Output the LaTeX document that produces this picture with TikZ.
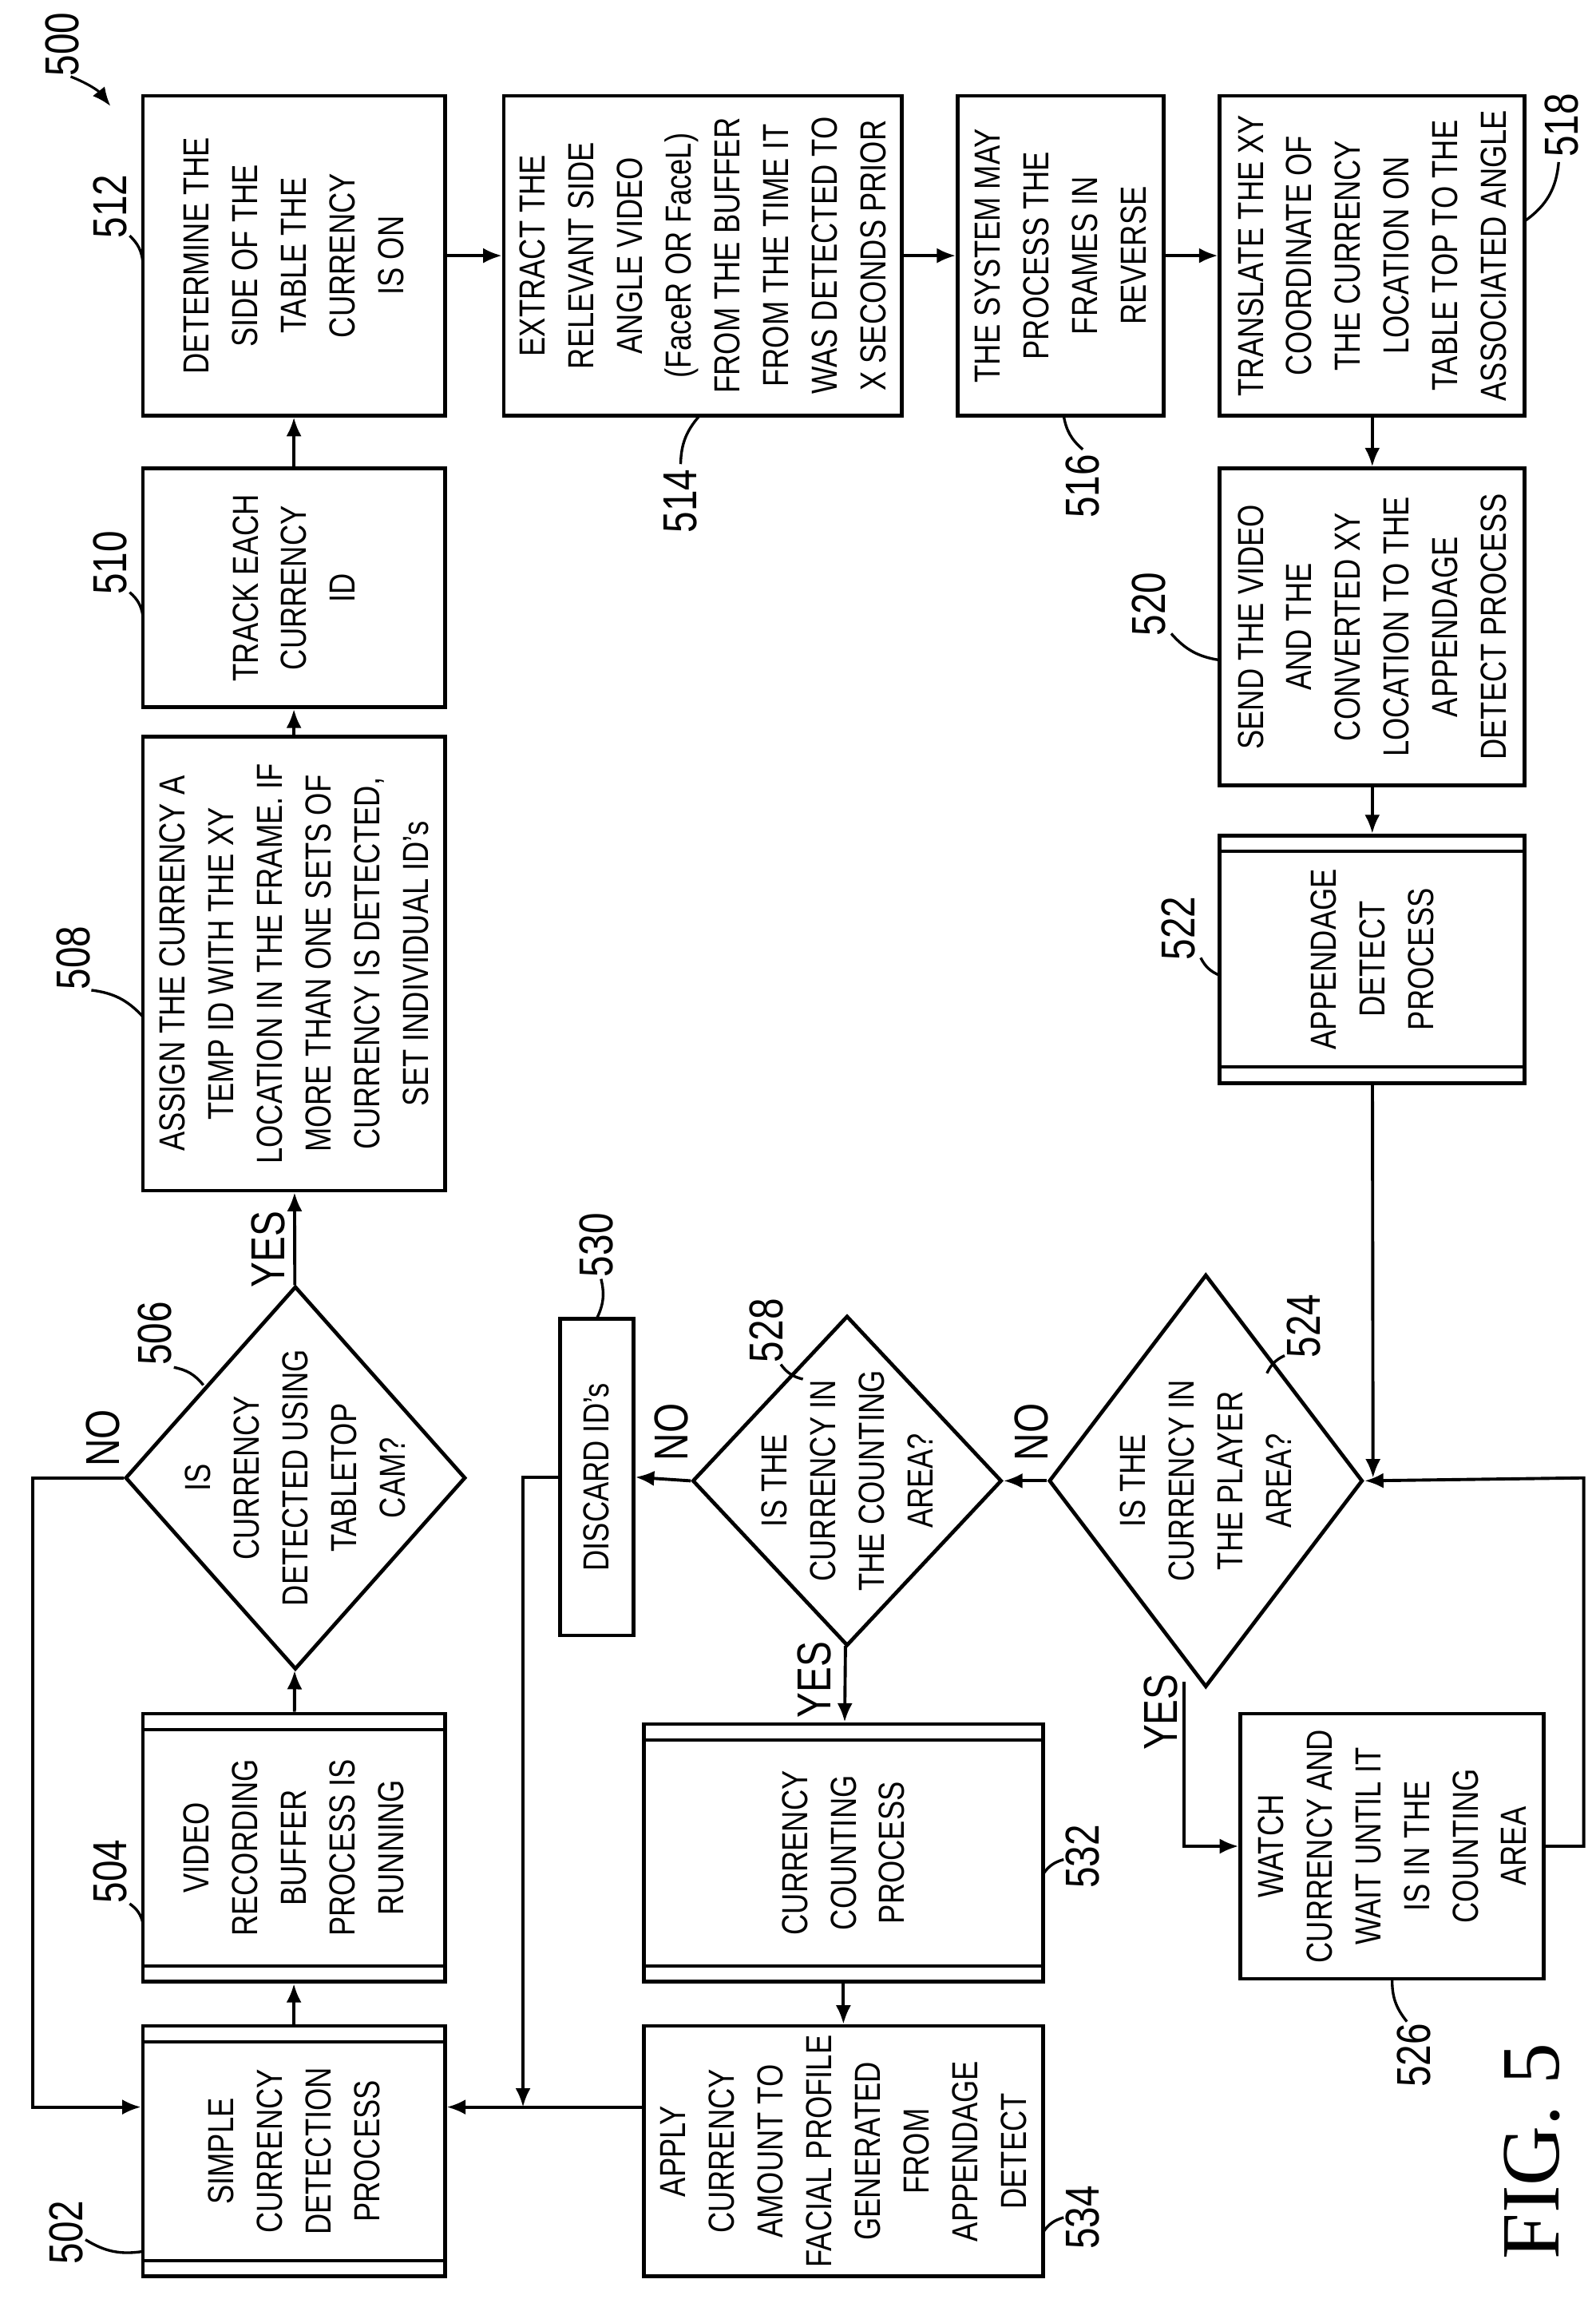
\documentclass[tikz,border=0pt]{standalone}
\usepackage{fontspec}
\setmainfont{Liberation Sans}[FakeStretch=0.8]
\newfontfamily\figfont{Liberation Serif}
\usetikzlibrary{arrows.meta,shapes.geometric}
\newcommand\bx[5]{\node[box,minimum width={(#4-#2)*0.25mm},minimum height={(#5-#3)*0.25mm}] (#1) at ({(#2+#4)/2},{(#3+#5)/2}) {};}
\newcommand\dm[5]{\node[dia,minimum width={(#4-#2)*0.25mm},minimum height={(#5-#3)*0.25mm}] (#1) at ({(#2+#4)/2},{(#3+#5)/2}) {};}
\newcommand\tx[2]{\node[txt] at (#1) {#2};}
\newcommand\bars[1]{\draw[thick2] ([yshift=-3mm]#1.north west) -- ([yshift=-3mm]#1.north east);
  \draw[thick2] ([yshift=3mm]#1.south west) -- ([yshift=3mm]#1.south east);}
\newcommand\lab[4]{\node[lbl] (l#1) at (#2,#3) {#1};}
\begin{document}
\begin{tikzpicture}[x=0.25mm,y=-0.25mm,
  box/.style={draw,line width=1.8pt,inner sep=0pt},
  dia/.style={draw,diamond,line width=1.8pt,inner sep=0pt},
  thick2/.style={line width=1.5pt},
  txt/.style={rotate=90,align=center,font=\fontsize{17.5}{23.5}\selectfont,inner sep=0pt},
  lbl/.style={rotate=90,font=\fontsize{23}{26}\selectfont,inner sep=1pt},
  ar/.style={line width=1.5pt,-{Latex[length=3.2mm,width=2.6mm]}},
  ln/.style={line width=1.5pt},
  ld/.style={line width=1.3pt}]
\useasboundingbox (0,0) rectangle (1083,1563);
% boxes
\bx{b512}{97}{65}{302}{282}
\bx{b510}{97}{318}{302}{480}
\bx{b508}{97}{500}{302}{808}
\dm{d506}{85}{873}{316}{1133}
\bx{b504}{97}{1163}{302}{1345}\bars{b504}
\bx{b502}{97}{1375}{302}{1545}\bars{b502}
\bx{b514}{342}{65}{612}{282}
\bx{b516}{650}{65}{790}{282}
\bx{b518}{828}{65}{1035}{282}
\bx{b520}{828}{318}{1035}{533}
\bx{b522}{828}{567}{1035}{735}\bars{b522}
\dm{d524}{712}{865}{925}{1145}
\bx{b526}{842}{1163}{1048}{1343}
\dm{d528}{470}{893}{680}{1117}
\bx{b530}{380}{895}{430}{1110}
\bx{b532}{437}{1170}{708}{1345}\bars{b532}
\bx{b534}{437}{1375}{708}{1545}
% texts
\tx{b512}{DETERMINE THE\\SIDE OF THE\\TABLE THE\\CURRENCY\\IS ON}
\tx{b510}{TRACK EACH\\CURRENCY\\ID}
\tx{b508}{ASSIGN THE CURRENCY A\\TEMP ID WITH THE XY\\LOCATION IN THE FRAME. IF\\MORE THAN ONE SETS OF\\CURRENCY IS DETECTED,\\SET INDIVIDUAL ID's}
\tx{d506}{IS\\CURRENCY\\DETECTED USING\\TABLETOP\\CAM?}
\tx{b504}{VIDEO\\RECORDING\\BUFFER\\PROCESS IS\\RUNNING}
\tx{b502}{SIMPLE\\CURRENCY\\DETECTION\\PROCESS}
\tx{b514}{EXTRACT THE\\RELEVANT SIDE\\ANGLE VIDEO\\(FaceR OR FaceL)\\FROM THE BUFFER\\FROM THE TIME IT\\WAS DETECTED TO\\X SECONDS PRIOR}
\tx{b516}{THE SYSTEM MAY\\PROCESS THE\\FRAMES IN\\REVERSE}
\tx{b518}{TRANSLATE THE XY\\COORDINATE OF\\THE CURRENCY\\LOCATION ON\\TABLE TOP TO THE\\ASSOCIATED ANGLE}
\tx{b520}{SEND THE VIDEO\\AND THE\\CONVERTED XY\\LOCATION TO THE\\APPENDAGE\\DETECT PROCESS}
\tx{b522}{APPENDAGE\\DETECT\\PROCESS}
\tx{d524}{IS THE\\CURRENCY IN\\THE PLAYER\\AREA?}
\tx{b526}{WATCH\\CURRENCY AND\\WAIT UNTIL IT\\IS IN THE\\COUNTING\\AREA}
\tx{d528}{IS THE\\CURRENCY IN\\THE COUNTING\\AREA?}
\tx{b530}{DISCARD ID's}
\tx{b532}{CURRENCY\\COUNTING\\PROCESS}
\tx{b534}{APPLY\\CURRENCY\\AMOUNT TO\\FACIAL PROFILE\\GENERATED\\FROM\\APPENDAGE\\DETECT}
% connectors
\draw[ar] (b502) -- (b504);
\draw[ar] (b504) -- (d506);
\draw[ar] (d506) -- (b508);
\node[lbl] at (182,848) {YES};
\draw[ar] (b508) -- (b510);
\draw[ar] (b510) -- (b512);
\draw[ar] (b512) -- (b514);
\draw[ar] (b514) -- (b516);
\draw[ar] (b516) -- (b518);
\draw[ar] (b518) -- (b520);
\draw[ar] (b520) -- (b522);
\coordinate (m524) at (932,1003);
\draw[ar] (b522) -- (m524);
\coordinate (r526) at (1075,1003);
\draw[ar] (b526.east) -| (r526) -- (d524.east);
\draw[ar] (d524.west) -- (d528.east);
\node[lbl] at (700,972) {NO};
\draw[ar] (d524.south) ++(-15,-5) coordinate (y524) -- (y524 |- b526.west) -- (b526.west);
\node[lbl] at (788,1162) {YES};
\draw[ar] (d528.west) -- (b530.east);
\node[lbl] at (456,972) {NO};
\draw[ar] (d528) -- (b532);
\node[lbl] at (553,1140) {YES};
\draw[ar] (b532) -- (b534);
\coordinate (j) at (355,1430);
\draw[ar] (b530.west) -| (j);
\draw[ar] (b534.west |- j) -- (b502.east |- j);
\coordinate (nl) at (22,1003);
\draw[ar] (d506.west) -- (nl) -- (nl |- j) -- (b502.west |- j);
\node[lbl] at (70,976) {NO};
% labels
\lab{512}{75}{140}{}\draw[ld] (88,160) to[bend left=20] (97,178);
\lab{510}{75}{382}{}\draw[ld] (88,402) to[bend left=20] (97,418);
\lab{508}{50}{650}{}\draw[ld] (62,672) to[bend left=20] (97,690);
\lab{506}{105}{905}{}\draw[ld] (118,928) to[bend left=20] (138,940);
\lab{504}{75}{1270}{}\draw[ld] (88,1292) to[bend left=20] (97,1305);
\lab{502}{45}{1515}{}\draw[ld] (58,1520) to[bend right=20] (97,1528);
\lab{514}{462}{340}{}\draw[ld] (462,315) to[bend left=20] (475,282);
\lab{516}{735}{330}{}\draw[ld] (735,305) to[bend left=20] (722,282);
\lab{518}{1060}{85}{}\draw[ld] (1058,110) to[bend left=25] (1035,150);
\lab{520}{780}{410}{}\draw[ld] (795,430) to[bend right=20] (828,448);
\lab{522}{800}{630}{}\draw[ld] (815,650) to[bend right=20] (828,662);
\lab{524}{885}{900}{}\draw[ld] (872,920) to[bend right=20] (860,932);
\lab{526}{960}{1395}{}\draw[ld] (955,1372) to[bend left=20] (945,1343);
\lab{528}{520}{903}{}\draw[ld] (530,926) to[bend right=20] (545,936);
\lab{530}{405}{845}{}\draw[ld] (408,868) to[bend left=20] (405,895);
\lab{532}{735}{1260}{}\draw[ld] (722,1262) to[bend right=20] (708,1272);
\lab{534}{735}{1505}{}\draw[ld] (722,1505) to[bend right=20] (708,1515);
\node[lbl] (l500) at (42,30) {500};
\draw[ar,line width=1.2pt] (48,52) to[bend left=15] (75,72);
\node[rotate=90,font=\figfont\fontsize{40}{44}\selectfont] (fig) at (1040,1460) {FIG. 5};
\end{tikzpicture}
\end{document}
